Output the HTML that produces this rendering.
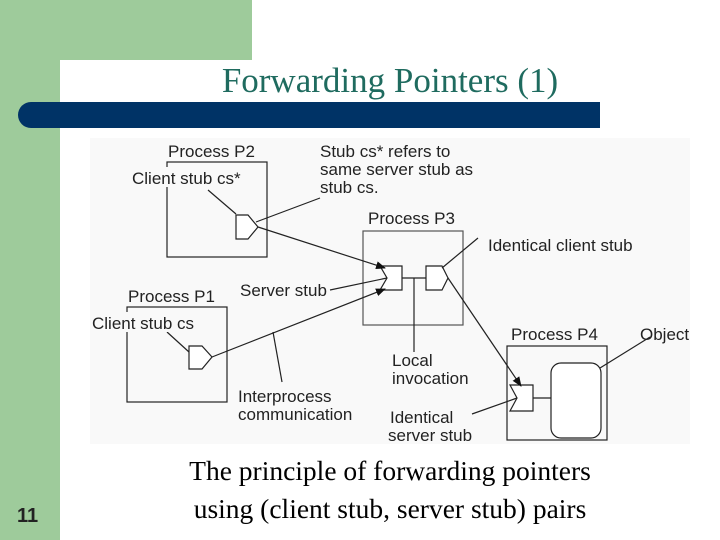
<!DOCTYPE html>
<html><head><meta charset="utf-8"><style>
body{margin:0;width:720px;height:540px;overflow:hidden;background:#fff;position:relative}
.g1{position:absolute;left:0;top:0;width:252px;height:60px;background:#9ecb9b}
.g2{position:absolute;left:0;top:0;width:60px;height:540px;background:#9ecb9b}
.wc{position:absolute;left:60px;top:60px;width:60px;height:60px;background:#fff;border-top-left-radius:26px}
.bar{position:absolute;left:18px;top:102px;width:582px;height:26px;background:#003366;border-radius:13px 0 0 13px}
.title{position:absolute;left:140px;width:500px;top:61px;text-align:center;font:35px "Liberation Serif",serif;color:#1f6b5f}
.cap{position:absolute;left:140px;width:500px;top:452px;text-align:center;font:27.5px/38px "Liberation Serif",serif;color:#000}
.num{position:absolute;left:17px;top:505px;font:bold 20px "Liberation Sans",sans-serif;color:#222}
svg{position:absolute;left:0;top:0}
svg text{font-family:"Liberation Sans",sans-serif;font-size:17px;fill:#222}
</style></head><body>
<div class="g1"></div><div class="g2"></div><div class="wc"></div>
<div class="bar"></div>
<div class="title">Forwarding Pointers (1)</div>
<svg width="720" height="540">
<defs><marker id="a" markerWidth="10" markerHeight="8" refX="9" refY="4" orient="auto" markerUnits="userSpaceOnUse"><path d="M0,0 L10,4 L0,8 z" fill="#111"/></marker></defs>
<rect x="90" y="138" width="600" height="306" fill="#f9f9f9"/>
<g fill="none" stroke="#222" stroke-width="1.2">
<rect x="167" y="162" width="100" height="95"/>
<rect x="127" y="307" width="100" height="95"/>
<rect x="363" y="231" width="100" height="94" stroke="#555"/>
<rect x="507" y="346" width="100" height="94"/>
<path d="M236,215 H248 L258,227 L248,239 H236 Z" fill="#fff"/>
<path d="M189,346 H202 L212,357 L202,369 H189 Z" fill="#fff"/>
<path d="M380,266 H402 V290 H380 L387,278 Z" fill="#fff"/>
<path d="M426,266 H442 L448,278 L442,290 H426 Z" fill="#fff"/>
<path d="M510,385 H533 V411 H510 L517,398 Z" fill="#fff"/>
<rect x="551" y="363" width="50" height="75" rx="10" fill="#fff"/>
<line x1="402" y1="278" x2="426" y2="278"/>
<line x1="533" y1="398" x2="551" y2="398"/>
<line x1="414" y1="278" x2="414" y2="352"/>
<line x1="258" y1="227" x2="385" y2="268" marker-end="url(#a)"/>
<line x1="212" y1="357" x2="385" y2="289" marker-end="url(#a)"/>
<line x1="448" y1="278" x2="521" y2="386" marker-end="url(#a)"/>
<line x1="208" y1="190" x2="236" y2="214"/>
<line x1="320" y1="198" x2="256" y2="222"/>
<line x1="167" y1="332" x2="189" y2="352"/>
<line x1="282" y1="382" x2="273" y2="332"/>
<line x1="330" y1="290" x2="387" y2="278"/>
<line x1="478" y1="238" x2="442" y2="268"/>
<line x1="650" y1="337" x2="600" y2="368"/>
<line x1="472" y1="414" x2="517" y2="398"/>
</g>
<rect x="130" y="167" width="118" height="20" fill="#f9f9f9"/>
<rect x="90" y="312" width="110" height="20" fill="#f9f9f9"/>
<text x="168" y="157">Process P2</text>
<text x="132" y="184">Client stub cs*</text>
<text x="320" y="157">Stub cs* refers to</text>
<text x="320" y="175">same server stub as</text>
<text x="320" y="193">stub cs.</text>
<text x="368" y="224">Process P3</text>
<text x="488" y="251">Identical client stub</text>
<text x="128" y="302">Process P1</text>
<text x="92" y="329">Client stub cs</text>
<text x="240" y="296">Server stub</text>
<text x="511" y="340">Process P4</text>
<text x="640" y="340">Object</text>
<text x="392" y="366">Local</text>
<text x="392" y="384">invocation</text>
<text x="238" y="402">Interprocess</text>
<text x="238" y="420">communication</text>
<text x="390" y="423">Identical</text>
<text x="388" y="441">server stub</text>
</svg>
<div class="cap">The principle of forwarding pointers<br>using (client stub, server stub) pairs</div>
<div class="num">11</div>
</body></html>
